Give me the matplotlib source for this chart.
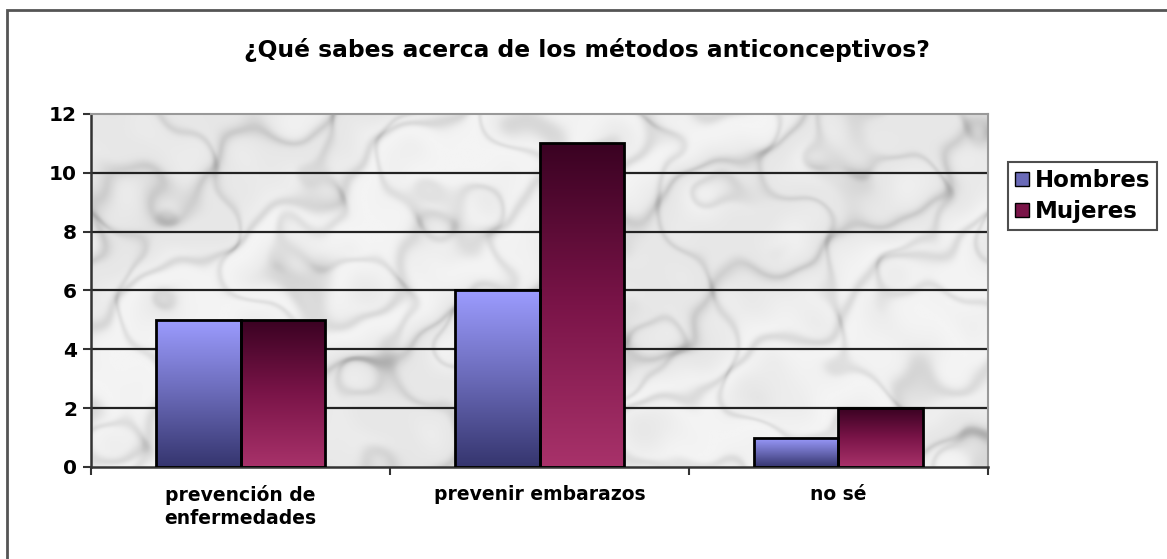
import numpy as np
import matplotlib
matplotlib.use("Agg")
import matplotlib.pyplot as plt
from matplotlib.patches import Patch, Rectangle
from matplotlib.colors import LinearSegmentedColormap

categories = ["prevención de\nenfermedades", "prevenir embarazos", "no sé"]
hombres = [5, 6, 1]
mujeres = [5, 11, 2]
series_names = ["Hombres", "Mujeres"]
yticks = [0, 2, 4, 6, 8, 10, 12]

plt.rcParams["font.family"] = ["DejaVu Sans"]

fig = plt.figure(figsize=(11.67, 5.59), dpi=100)
fig.patch.set_facecolor("white")
ax = fig.add_axes([0.078, 0.1646, 0.7686, 0.6315])

# marble-like background (deterministic pattern, no data)
h, w = 300, 760
yy, xx = np.mgrid[0:h, 0:w].astype(float)
turb = np.zeros_like(xx)
waves = [(0.021, 0.037, 0.3, 1.0), (0.051, -0.019, 1.7, 0.7), (0.013, 0.069, 2.9, 0.5),
         (0.092, 0.054, 0.8, 0.3), (-0.044, 0.117, 4.1, 0.2), (0.157, -0.121, 5.2, 0.1)]
for fx, fy, ph, amp in waves:
    turb += amp * np.sin(fx * xx + fy * yy + ph)
t = 0.02 * xx + 0.035 * yy + 0.8 * turb
vein = np.exp(-np.sin(t) ** 2 / 0.12)
t2 = 0.032 * xx - 0.014 * yy + 1.0 * turb + 1.0
vein2 = np.exp(-np.sin(t2) ** 2 / 0.06)
cloud = 0.5 + 0.5 * np.sin(0.011 * xx + 0.02 * yy + 1.2 * turb)
marble = 1.0 - 0.28 * vein - 0.22 * vein2 - 0.15 * cloud
marble_cmap = LinearSegmentedColormap.from_list("marble", ["#a8a8a8", "#d6d6d6", "#f4f4f4"])
ax.imshow(marble, cmap=marble_cmap, extent=[-0.5, 2.5, 0, 12], aspect="auto",
          zorder=0, interpolation="bilinear", vmin=0.3, vmax=1.0)

# gridlines
for v in yticks[1:-1]:
    ax.axhline(v, color="#222222", lw=1.6, zorder=1)

x = np.arange(len(categories))
bw = 0.282
bars_h = ax.bar(x - bw / 2, hombres, bw, facecolor="none", edgecolor="black", lw=2, zorder=3)
bars_m = ax.bar(x + bw / 2, mujeres, bw, facecolor="none", edgecolor="black", lw=2, zorder=3)

cmap_h = LinearSegmentedColormap.from_list("h", ["#35356e", "#6a6ab8", "#9c9cff"])
cmap_m = LinearSegmentedColormap.from_list("m", ["#a8326a", "#7a1448", "#3a0222"])
grad = np.linspace(0, 1, 256).reshape(-1, 1)
for bars, cmap in [(bars_h, cmap_h), (bars_m, cmap_m)]:
    for b in bars:
        x0, y0 = b.get_x(), b.get_y()
        im = ax.imshow(grad, cmap=cmap, origin="lower", aspect="auto",
                       extent=[x0, x0 + b.get_width(), y0, y0 + b.get_height()], zorder=2)
        im.set_clip_path(b)

ax.set_xlim(-0.5, 2.5)
ax.set_ylim(0, 12)
ax.set_yticks(yticks)
ax.set_yticklabels([str(v) for v in yticks], fontsize=14.5, fontweight="bold")
ax.set_xticks(x)
ax.set_xticklabels(categories, fontsize=13.5, fontweight="bold", linespacing=1.25)
ax.set_xticks([-0.5, 0.5, 1.5, 2.5], minor=True)
ax.tick_params(axis="x", which="major", length=0, pad=13)
ax.tick_params(axis="x", which="minor", length=6, width=1.5, color="#333333", direction="out")
ax.tick_params(axis="y", length=6, width=1.5, color="#333333", pad=4)
for s in ["left", "bottom"]:
    ax.spines[s].set_color("#333333")
    ax.spines[s].set_linewidth(1.8)
for s in ["top", "right"]:
    ax.spines[s].set_color("#999999")
    ax.spines[s].set_linewidth(1.5)

fig.text(0.503, 1 - 50 / 559, "¿Qué sabes acerca de los métodos anticonceptivos?",
         ha="center", va="center", fontsize=16.8, fontweight="bold")

handles = [Patch(facecolor="#6a6ab8", edgecolor="black"),
           Patch(facecolor="#7a1448", edgecolor="black")]
leg = ax.legend(handles, series_names, loc="upper left", bbox_to_anchor=(0.864, 0.71),
                bbox_transform=fig.transFigure, fancybox=False, frameon=True,
                handlelength=0.6, handleheight=0.6, handletextpad=0.25,
                prop={"size": 16.5, "weight": "bold"}, borderpad=0.3, labelspacing=0.35,
                borderaxespad=0)
leg.get_frame().set_edgecolor("#222222")
leg.get_frame().set_linewidth(1.5)

fig.patches.append(Rectangle((7 / 1167, -0.1), 1.2, 1 - 10 / 559 + 0.1,
                             transform=fig.transFigure, fill=False,
                             edgecolor="#555555", lw=2))

fig.savefig("out.png", dpi=100)
